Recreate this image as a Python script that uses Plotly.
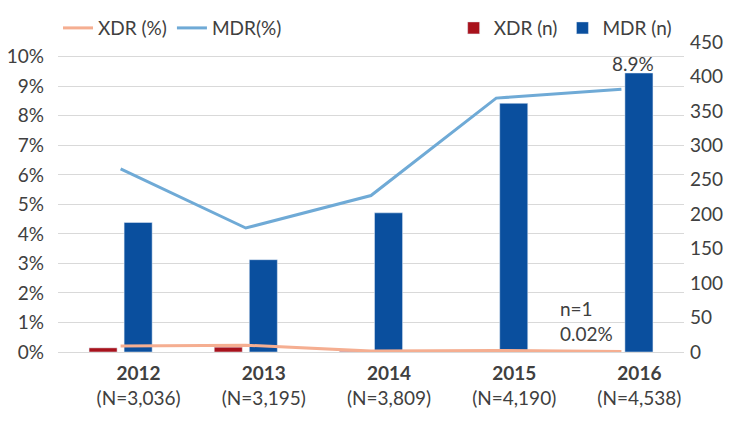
import plotly.graph_objects as go

years = ["2012", "2013", "2014", "2015", "2016"]
n_totals = ["3,036", "3,195", "3,809", "4,190", "4,538"]
xdr_n = [6, 7, 1, 2, 1]
mdr_n = [188, 134, 202, 361, 405]
xdr_pct = [0.2, 0.23, 0.03, 0.05, 0.02]
mdr_pct = [6.2, 4.2, 5.3, 8.6, 8.9]
left_ticks = list(range(0, 11))
right_ticks = list(range(0, 451, 50))

tick_text = [f"<b>{y}</b><br>(N={n})" for y, n in zip(years, n_totals)]

FONT = "Lato, 'Open Sans', sans-serif"
TXT = "#404040"
FS = 19

fig = go.Figure()
fig.add_trace(go.Bar(x=years, y=xdr_n, name="XDR (n)", marker_color="#A8121C",
                     yaxis="y", legend="legend2"))
fig.add_trace(go.Bar(x=years, y=mdr_n, name="MDR (n)", marker_color="#0A4F9E",
                     yaxis="y", legend="legend2"))
fig.add_trace(go.Scatter(x=years, y=xdr_pct, name="XDR (%)", mode="lines",
                         line=dict(color="#F5AE91", width=3), yaxis="y2", legend="legend"))
fig.add_trace(go.Scatter(x=years, y=mdr_pct, name="MDR(%)", mode="lines",
                         line=dict(color="#6FAAD6", width=3), yaxis="y2", legend="legend"))

last = len(years) - 1
fig.add_annotation(x=last, y=mdr_n[-1], xref="x", yref="y", text=f"{mdr_pct[-1]}%",
                   showarrow=False, yanchor="bottom", xshift=12, yshift=-4,
                   font=dict(size=FS, color=TXT, family=FONT))
fig.add_annotation(x=last, y=0, xref="x", yref="y2",
                   text=f"n={xdr_n[-1]}<br>{xdr_pct[-1]}%",
                   showarrow=False, xanchor="left", yanchor="bottom", xshift=-63, yshift=5,
                   align="left", font=dict(size=FS, color=TXT, family=FONT))

fig.update_layout(
    width=734, height=431,
    margin=dict(l=58, r=50, t=42, b=79, autoexpand=False),
    paper_bgcolor="white", plot_bgcolor="white",
    font=dict(family=FONT, size=FS, color=TXT),
    barmode="group", bargap=0.44, bargroupgap=0.2,
    xaxis=dict(type="category", categoryorder="array", categoryarray=years,
               range=[-0.5, len(years) - 0.5], autorange=False,
               tickmode="array", tickvals=years, ticktext=tick_text,
               showgrid=False, showline=False, ticks="", ticklabelshift=18,
               ticklabelstandoff=8, tickangle=0, tickfont=dict(size=FS, color=TXT)),
    yaxis=dict(side="right", range=[0, 450], tickvals=right_ticks, showgrid=False,
               zeroline=False, showline=False, ticks="", ticklabelstandoff=5,
               tickfont=dict(size=FS, color=TXT)),
    yaxis2=dict(overlaying="y", side="left", range=[0, 10.5], tickvals=left_ticks,
                ticktext=[f"{t}%" for t in left_ticks], showgrid=True, gridcolor="#D9D9D9",
                gridwidth=1, zeroline=True, zerolinecolor="#D9D9D9", zerolinewidth=1,
                showline=False, ticks="", ticklabelstandoff=13,
                tickfont=dict(size=FS, color=TXT)),
    legend=dict(orientation="h", x=0.0, xanchor="left", y=1.045, yanchor="middle",
                font=dict(size=FS, color=TXT), bgcolor="rgba(0,0,0,0)", traceorder="normal"),
    legend2=dict(orientation="h", x=0.632, xanchor="left", y=1.045, yanchor="middle",
                 font=dict(size=FS, color=TXT), bgcolor="rgba(0,0,0,0)", traceorder="normal"),
    showlegend=True,
)

fig.write_html("out.html", config={"displayModeBar": False},
               post_script="document.body.style.margin='0';document.body.style.overflow='hidden';")
